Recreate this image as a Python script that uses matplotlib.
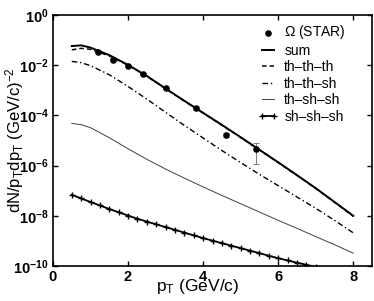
import numpy as np
import matplotlib
matplotlib.use('Agg')
import matplotlib.pyplot as plt

plt.rcParams['font.family'] = ['Liberation Sans', 'DejaVu Sans']
plt.rcParams['mathtext.fontset'] = 'custom'
plt.rcParams['mathtext.rm'] = 'Liberation Sans'
plt.rcParams['mathtext.bf'] = 'Liberation Sans:bold'
plt.rcParams['mathtext.it'] = 'Liberation Sans:italic'

# STAR Omega data (pT, yield, error)
star_pt = [1.2, 1.6, 2.0, 2.4, 3.0, 3.8, 4.6, 5.4]
star_y = [3.2e-2, 1.6e-2, 9.3e-3, 4.5e-3, 1.2e-3, 1.95e-4, 1.7e-5, 4.4e-6]
star_err = [2.5e-3, 1.3e-3, 8e-4, 4e-4, 1.2e-4, 2.5e-5, 3e-6, 3.2e-6]

# model curves, log10 values
pt = [0.5, 0.75, 1.0, 1.5, 2.0, 2.5, 3.0, 3.5, 4.0, 4.5, 5.0, 5.5, 6.0, 6.5, 7.0, 7.5, 8.0]
sum_log = [-1.24, -1.21, -1.30, -1.60, -1.99, -2.43, -2.93, -3.42, -3.90, -4.38, -4.87,
           -5.37, -5.87, -6.38, -6.90, -7.45, -8.00]
ttt_log = [-1.39, -1.33, -1.37, -1.63, -2.00, -2.44, -2.94, -3.43, -3.91, -4.39, -4.88,
           -5.38, -5.88, -6.39, -6.91, -7.46, -8.02]
tts_log = [-1.85, -1.90, -2.02, -2.38, -2.85, -3.35, -3.88, -4.40, -4.90, -5.40, -5.88,
           -6.35, -6.80, -7.25, -7.70, -8.18, -8.68]
tss_log = [-4.32, -4.37, -4.49, -4.89, -5.33, -5.75, -6.14, -6.50, -6.85, -7.19, -7.52,
           -7.85, -8.18, -8.50, -8.83, -9.15, -9.49]

sss_pt = [0.5, 0.75, 1.0, 1.25, 1.5, 1.75, 2.0, 2.25, 2.5, 2.75, 3.0, 3.25, 3.5, 3.75,
          4.0, 4.25, 4.5, 4.75, 5.0, 5.25, 5.5, 5.75, 6.0, 6.25, 6.5, 6.75, 7.0]
sss_log = [-7.16, -7.31, -7.45, -7.59, -7.73, -7.86, -7.99, -8.12, -8.23, -8.34, -8.45,
           -8.56, -8.67, -8.78, -8.89, -8.99, -9.09, -9.19, -9.29, -9.39, -9.49, -9.59,
           -9.69, -9.78, -9.87, -9.95, -10.04]

xticks = [0, 2, 4, 6, 8]
yticks = [1e0, 1e-2, 1e-4, 1e-6, 1e-8, 1e-10]
ytick_labels = [r'$\mathbf{10^{0}}$', r'$\mathbf{10^{-2}}$', r'$\mathbf{10^{-4}}$',
                r'$\mathbf{10^{-6}}$', r'$\mathbf{10^{-8}}$', r'$\mathbf{10^{-10}}$']

fig = plt.figure(figsize=(3.74, 3.01), dpi=100)
ax = fig.add_axes([0.1417, 0.1163, 0.853, 0.834])

ax.errorbar(star_pt, star_y, yerr=star_err, fmt='none', ecolor='0.5', elinewidth=0.8,
            capsize=2, capthick=0.8)
ax.scatter(star_pt, star_y, s=14, c='k', zorder=5, label=r'$\Omega$ (STAR)')
ax.plot(pt, 10.0 ** np.array(sum_log), 'k-', lw=1.4, label='sum')
ax.plot(pt, 10.0 ** np.array(ttt_log), 'k--', lw=1.1, dashes=(3, 2), label='th–th–th')
ax.plot(pt, 10.0 ** np.array(tts_log), 'k-.', lw=1.0, dashes=(4, 2, 1, 2), label='th–th–sh')
ax.plot(pt, 10.0 ** np.array(tss_log), '-', color='0.25', lw=0.7, label='th–sh–sh')
ax.plot(sss_pt, 10.0 ** np.array(sss_log), 'k-', lw=1.3, marker='+', ms=4, mew=1.0,
        label='sh–sh–sh')

ax.set_yscale('log')
ax.set_xlim(0, 8.5)
ax.set_ylim(1e-10, 1e0)
ax.set_xticks(xticks)
ax.set_xticklabels([str(t) for t in xticks], fontweight='bold', fontsize=10.5)
ax.set_yticks(yticks)
ax.set_yticklabels(ytick_labels, fontsize=10.5)
ax.yaxis.set_minor_locator(matplotlib.ticker.NullLocator())
ax.tick_params(direction='in', length=3.5, width=1.0, top=True, right=True, pad=3)
for s in ax.spines.values():
    s.set_linewidth(1.2)

ax.set_xlabel(r'p$_\mathregular{T}$ (GeV/c)', fontsize=12.5)
ax.xaxis.set_label_coords(0.455, -0.045)
ax.set_ylabel(r'dN/p$_\mathregular{T}$dp$_\mathregular{T}$ (GeV/c)$^{-2}$', fontsize=12)
ax.yaxis.set_label_coords(-0.085, 0.5)

ax.legend(loc='upper right', bbox_to_anchor=(0.944, 1.0), frameon=False, fontsize=10,
          handlelength=1.5, handletextpad=0.4, labelspacing=0.18, borderaxespad=0.2,
          numpoints=2, scatterpoints=1)

fig.savefig('out.png', dpi=100)
